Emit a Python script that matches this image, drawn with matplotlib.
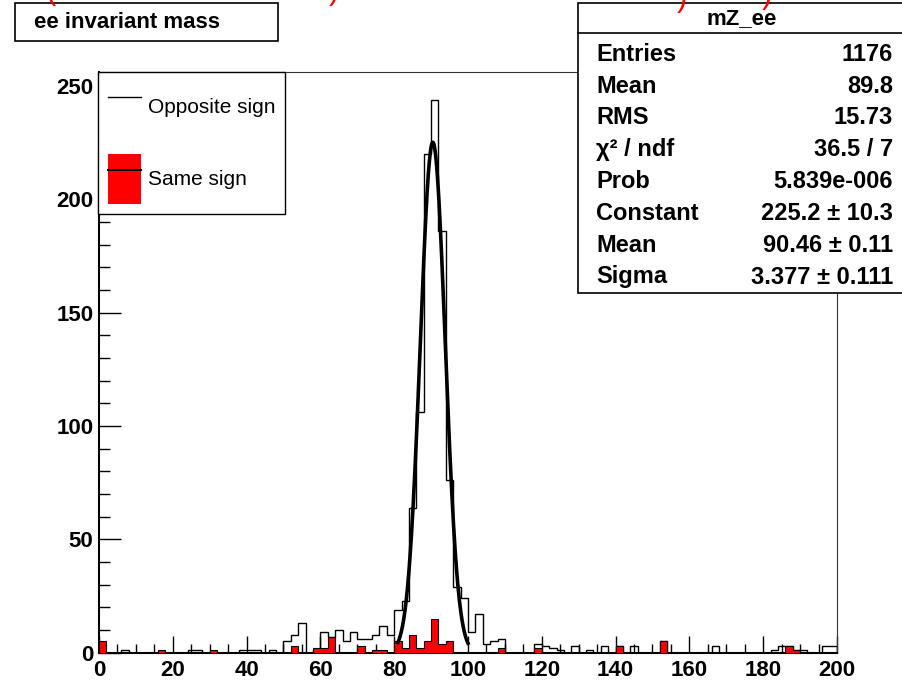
import numpy as np
import matplotlib.pyplot as plt
from matplotlib.patches import Rectangle, Patch
from matplotlib.lines import Line2D
from matplotlib.ticker import MultipleLocator

plt.rcParams['font.family'] = ['Liberation Sans', 'DejaVu Sans']

# 100 bins of 2 GeV between 0 and 200
x_lo, x_hi, n_bins = 0, 200, 100

# opposite-sign ee pairs, one value per 2 GeV bin
opposite_sign = [
    0, 0, 0, 1, 0, 0, 0, 0, 0, 0,                 # 0-20
    0, 0, 1, 1, 0, 0, 0, 0, 0, 1,                 # 20-40
    1, 1, 0, 1, 0, 5, 8, 13, 0, 1,                # 40-60
    9, 7, 10, 5, 9, 6, 6, 8, 12, 8,               # 60-80
    19, 23, 64, 106, 220, 244, 186, 76, 29, 24,   # 80-100
    9, 17, 4, 5, 6, 0, 0, 0, 0, 4,                # 100-120
    3, 2, 1, 0, 3, 0, 1, 0, 3, 0,                 # 120-140
    3, 0, 3, 0, 0, 0, 5, 0, 0, 0,                 # 140-160
    0, 0, 0, 3, 0, 0, 0, 0, 0, 0,                 # 160-180
    0, 1, 3, 3, 1, 1, 0, 0, 3, 3,                 # 180-200
]

# same-sign ee pairs
same_sign = [
    5, 0, 0, 0, 0, 0, 0, 0, 1, 0,                 # 0-20
    0, 0, 0, 0, 0, 1, 0, 0, 0, 0,                 # 20-40
    0, 0, 0, 0, 0, 0, 3, 0, 0, 2,                 # 40-60
    2, 7, 0, 0, 0, 3, 0, 1, 1, 0,                 # 60-80
    5, 2, 8, 2, 5, 15, 4, 5, 0, 0,                # 80-100
    0, 0, 0, 0, 2, 0, 0, 0, 0, 2,                 # 100-120
    0, 0, 0, 0, 0, 0, 0, 0, 0, 0,                 # 120-140
    3, 0, 0, 0, 0, 0, 5, 0, 0, 0,                 # 140-160
    0, 0, 0, 0, 0, 0, 0, 0, 0, 0,                 # 160-180
    0, 0, 0, 3, 1, 0, 0, 0, 0, 0,                 # 180-200
]

# gaussian fit (parameters from the stats box)
fit_const, fit_mean, fit_sigma = 225.2, 90.46, 3.377
fit_lo, fit_hi = 81.0, 100.0

stat_labels = ["Entries", "Mean", "RMS", "χ² / ndf", "Prob",
               "Constant", "Mean", "Sigma"]
stat_values = ["1176", "89.8", "15.73", "36.5 / 7", "5.839e-006",
               "225.2 ± 10.3", "90.46 ± 0.11", "3.377 ± 0.111"]

W, H = 903, 684


def fx(px):
    return px / W


def fy(py):
    return 1 - py / H


fig = plt.figure(figsize=(W / 100, H / 100), dpi=100)
ax = fig.add_axes([fx(99), fy(652.7), fx(837) - fx(99), fy(72) - fy(652.7)])

edges = np.linspace(x_lo, x_hi, n_bins + 1)
opp = np.array(opposite_sign, dtype=float)
same = np.array(same_sign, dtype=float)

ax.stairs(opp, edges, color='black', lw=1.0, zorder=2)
ax.stairs(same, edges, fill=True, facecolor='red', edgecolor='black',
          lw=0.8, zorder=3)

xf = np.linspace(fit_lo, fit_hi, 300)
yf = fit_const * np.exp(-0.5 * ((xf - fit_mean) / fit_sigma) ** 2)
ax.plot(xf, yf, color='black', lw=2.6, zorder=4)

ax.set_xlim(x_lo, x_hi)
ax.set_ylim(0, 1.05 * opp.max())

ax.xaxis.set_major_locator(MultipleLocator(20))
ax.xaxis.set_minor_locator(MultipleLocator(5))
ax.yaxis.set_major_locator(MultipleLocator(50))
ax.yaxis.set_minor_locator(MultipleLocator(10))
ax.tick_params(axis='x', which='major', direction='in', length=12.5, width=1,
               labelsize=16, pad=5)
ax.tick_params(axis='x', which='minor', direction='in', length=6.3, width=1)
ax.tick_params(axis='y', which='major', direction='in', length=15.8, width=1,
               labelsize=16, pad=4)
ax.tick_params(axis='y', which='minor', direction='in', length=8, width=1)
for lbl in ax.get_xticklabels() + ax.get_yticklabels():
    lbl.set_fontweight('bold')

ax.spines['left'].set_linewidth(1.5)
ax.spines['bottom'].set_linewidth(1.5)
ax.spines['top'].set_linewidth(0.8)
ax.spines['right'].set_linewidth(0.8)
ax.spines['top'].set_color('#333333')
ax.spines['right'].set_color('#333333')

# legend
h_opp = Line2D([], [], color='black', lw=1)
h_same = (Patch(facecolor='red', edgecolor='none'), Line2D([], [], color='black', lw=1.5))
leg = ax.legend([h_opp, h_same], ["Opposite sign", "Same sign"],
                loc='upper left', bbox_to_anchor=(fx(98.3), fy(72.3)),
                bbox_transform=fig.transFigure, fontsize=15,
                handlelength=1.6, handleheight=3.3, handletextpad=0.35,
                labelspacing=1.1, borderpad=0.45, borderaxespad=0,
                fancybox=False, framealpha=1, edgecolor='black')
leg.get_frame().set_linewidth(1.0)

# title box
fig.add_artist(Rectangle((fx(15), fy(41)), fx(278) - fx(15), fy(3) - fy(41),
                         transform=fig.transFigure, facecolor='white',
                         edgecolor='black', lw=1.2, zorder=5))
fig.text(fx(127), fy(22), "ee invariant mass", ha='center', va='center',
         fontsize=16, fontweight='bold', zorder=6)

# stats box
fig.add_artist(Rectangle((fx(578), fy(293)), fx(906) - fx(578), fy(3) - fy(293),
                         transform=fig.transFigure, facecolor='white',
                         edgecolor='black', lw=1.2, zorder=5))
fig.add_artist(Line2D([fx(578), fx(906)], [fy(33), fy(33)],
                      transform=fig.transFigure, color='black', lw=1.2, zorder=6))
fig.text(fx(742), fy(19), "mZ_ee", ha='center', va='center',
         fontsize=16, fontweight='bold', zorder=7)
row_y = [54.7, 86.7, 118, 149.5, 181.7, 213.5, 246, 277]
for yy, lab, val in zip(row_y, stat_labels, stat_values):
    fig.text(fx(596), fy(yy), lab, ha='left', va='center',
             fontsize=17, fontweight='bold', zorder=7)
    fig.text(fx(893), fy(yy), val, ha='right', va='center',
             fontsize=17, fontweight='bold', zorder=7)

# red title text cut off at the top edge of the canvas
for px, py, ch in [(50, -1, "("), (334, -1, ")"), (682, 6, ")"), (767, 3, ")")]:
    fig.text(fx(px), fy(py), ch, ha='center', va='baseline', color='red',
             fontsize=22, zorder=8)

fig.savefig("out.png", dpi=100)
